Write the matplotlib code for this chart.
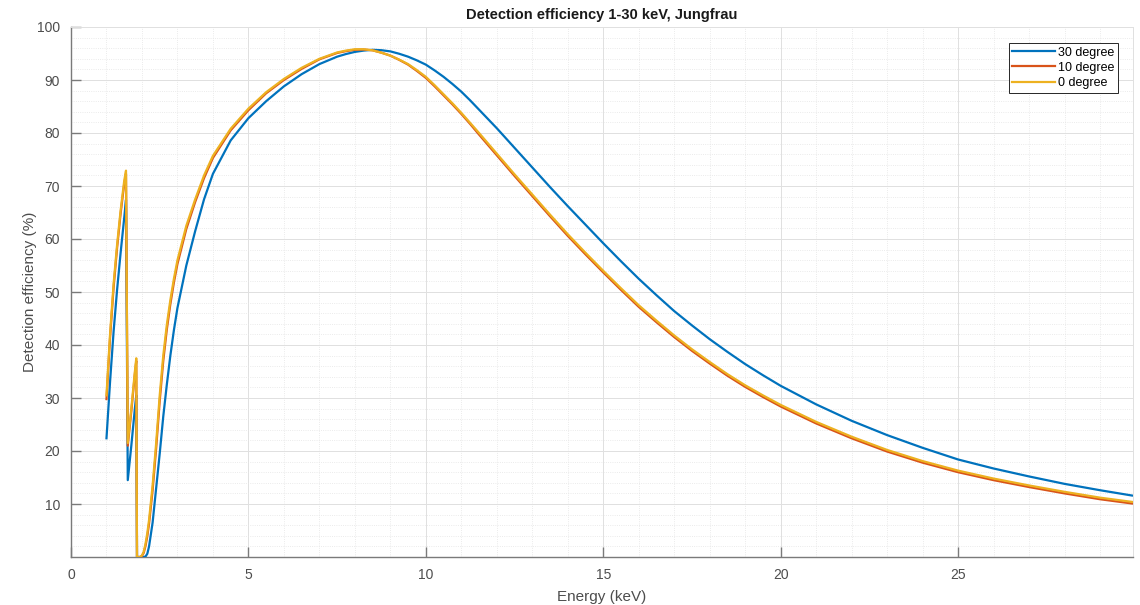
import numpy as np
import matplotlib.pyplot as plt
from matplotlib.ticker import MultipleLocator

plt.rcParams['font.family'] = ['Liberation Sans', 'DejaVu Sans']

# photon energy (keV), shared by all three angles
energy = [1.0, 1.1, 1.2, 1.3, 1.4, 1.5, 1.55, 1.6, 1.7, 1.8, 1.84, 1.86,
          1.95, 2.0, 2.05, 2.1, 2.15, 2.2, 2.3, 2.4, 2.5, 2.6, 2.7, 2.8,
          2.9, 3.0, 3.25, 3.5, 3.75, 4.0, 4.5, 5.0, 5.5, 6.0, 6.5, 7.0,
          7.5, 7.75, 8.0, 8.25, 8.5, 8.75, 9.0, 9.25, 9.5, 9.75, 10.0, 10.25,
          10.5, 10.75, 11.0, 11.25, 11.5, 12.0, 12.5, 13.0,
          13.5, 14.0, 14.5, 15.0, 15.5, 16.0, 16.5, 17.0, 17.5, 18.0, 18.5, 19.0,
          19.5, 20.0, 21.0, 22.0, 23.0, 24.0, 25.0, 26.0, 27.0, 28.0, 29.0, 29.9]

# detection efficiency (%)
eff_30 = [22.4, 33.0, 42.5, 50.5, 57.5, 64.0, 67.4, 14.5, 21.0, 28.0, 30.5, 0.0,
          0.0, 0.0, 0.0, 0.1, 0.6, 2.0, 6.5, 13.0, 19.5, 26.5, 32.5, 38.0,
          42.8, 47.0, 55.0, 61.5, 67.5, 72.3, 78.6, 82.8, 86.0, 88.8, 91.1, 93.0,
          94.4, 94.9, 95.3, 95.55, 95.7, 95.62, 95.4, 94.95, 94.4, 93.7, 92.9, 91.8,
          90.6, 89.25, 87.8, 86.15, 84.4, 80.9, 77.2, 73.5,
          69.8, 66.2, 62.7, 59.2, 55.8, 52.5, 49.4, 46.4, 43.7, 41.1, 38.7, 36.4,
          34.3, 32.3, 28.8, 25.7, 23.0, 20.6, 18.4, 16.7, 15.2, 13.8, 12.6, 11.6]

eff_10 = [29.8, 41.3, 50.8, 58.4, 64.9, 70.4, 72.3, 21.0, 27.5, 34.5, 37.0, 0.0,
          0.0, 0.2, 0.8, 2.1, 3.9, 6.3, 12.6, 20.5, 29.4, 37.0, 42.9, 47.7,
          51.8, 55.3, 61.9, 67.0, 71.5, 75.3, 80.5, 84.3, 87.5, 90.0, 92.1, 93.9,
          95.1, 95.45, 95.7, 95.75, 95.6, 95.15, 94.6, 93.8, 92.9, 91.7, 90.4, 88.8,
          87.1, 85.4, 83.6, 81.7, 79.7, 75.8, 71.9, 68.1,
          64.3, 60.6, 57.1, 53.7, 50.4, 47.2, 44.3, 41.5, 38.9, 36.5, 34.2, 32.1,
          30.2, 28.4, 25.2, 22.4, 19.9, 17.8, 16.0, 14.5, 13.2, 12.0, 10.9, 10.1]

eff_0 = [30.5, 42.0, 51.5, 59.0, 65.5, 71.0, 72.9, 21.5, 28.0, 35.0, 37.5, 0.0,
         0.0, 0.3, 1.0, 2.5, 4.5, 7.0, 13.5, 21.5, 30.5, 38.0, 43.8, 48.5,
         52.5, 56.0, 62.5, 67.5, 72.0, 75.7, 80.8, 84.6, 87.7, 90.2, 92.3, 94.0,
         95.2, 95.55, 95.8, 95.8, 95.6, 95.15, 94.6, 93.85, 93.0, 91.85, 90.6, 89.0,
         87.3, 85.6, 83.8, 81.9, 80.0, 76.1, 72.2, 68.4,
         64.6, 60.9, 57.4, 54.0, 50.7, 47.5, 44.6, 41.8, 39.2, 36.8, 34.5, 32.4,
         30.5, 28.7, 25.5, 22.7, 20.2, 18.1, 16.3, 14.8, 13.5, 12.3, 11.2, 10.4]

labels = ['30 degree', '10 degree', '0 degree']
colors = ['#0072BD', '#D95319', '#EDB120']

fig = plt.figure(figsize=(11.4, 6.05), dpi=100)
ax = fig.add_axes([71 / 1140, 48 / 605, 1062 / 1140, 530 / 605])

for eff, label, color in zip([eff_30, eff_10, eff_0], labels, colors):
    ax.plot(energy, eff, color=color, lw=1.6, label=label, zorder=3)

ax.set_xlim(0, 29.93)
ax.set_ylim(0, 100)
ax.set_yticks(np.arange(10, 101, 10))
ax.xaxis.set_minor_locator(MultipleLocator(1))
ax.yaxis.set_minor_locator(MultipleLocator(2))

# matlab style grid
ax.grid(which='major', color='#e0e0e0', lw=0.7, zorder=0)
ax.grid(which='minor', color='#e4e4e4', lw=0.6, ls=':', zorder=0)
ax.set_axisbelow(True)

text_color = '#4d4d4d'
for side in ['left', 'bottom']:
    ax.spines[side].set_color('#7a7a7a')
    ax.spines[side].set_linewidth(1.0)
for side in ['top', 'right']:
    ax.spines[side].set_color('#e0e0e0')
    ax.spines[side].set_linewidth(0.7)

ax.tick_params(which='major', direction='in', length=7, width=1.0,
               color='#7a7a7a', labelcolor=text_color, labelsize=10, pad=8)
ax.tick_params(which='minor', length=0)

ax.set_title('Detection efficiency 1-30 keV, Jungfrau', fontsize=10.5,
             fontweight='bold', color='#1a1a1a', pad=6)
ax.set_xlabel('Energy (keV)', fontsize=11, color=text_color, labelpad=6)
ax.set_ylabel('Detection efficiency (%)', fontsize=11, color=text_color, labelpad=0)

leg = ax.legend(loc='upper right', bbox_to_anchor=(0.986, 0.97), fontsize=9,
                frameon=True, fancybox=False, framealpha=1, edgecolor='#262626',
                handlelength=3.4, handletextpad=0.25, labelspacing=0.25,
                borderpad=0.3, borderaxespad=0)
leg.get_frame().set_linewidth(0.7)

fig.savefig('out.png', dpi=100)
